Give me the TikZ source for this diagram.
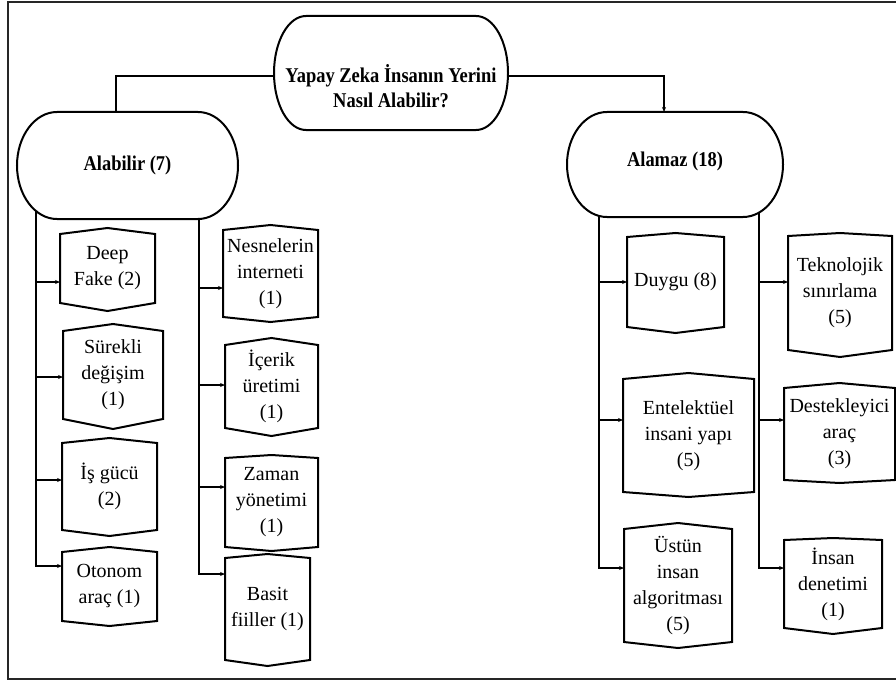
\documentclass[tikz,border=0pt]{standalone}
\usepackage{fontspec}
\setmainfont{Liberation Serif}
\newfontfamily\headfont{Liberation Serif}[FakeStretch=0.88]
\usetikzlibrary{arrows.meta,backgrounds}

\tikzset{
  boxtext/.style={inner sep=0pt, outer sep=0pt, align=center,
    font=\fontsize{20}{26}\selectfont},
  boxline/.style={line width=2pt, line join=miter, fill=white},
  termline/.style={line width=2pt, fill=white},
  headtext/.style={inner sep=0pt, align=center,
    font=\headfont\bfseries\fontsize{21}{25}\selectfont},
  conn/.style={line width=1.1pt},
  arr/.style={conn, -{Stealth[length=5pt,width=4pt]}},
  frame/.style={line width=2.5pt, draw=black!85},
}

% terminal: name, x1, x2, y1, y2, corner x-radius, text y, text
\newcommand\terminal[8]{%
  \pgfmathsetmacro\stcx{(#2+#3)/2}%
  \pgfmathsetmacro\stmy{(#4+#5)/2}%
  \pgfmathsetmacro\stk{0.5523*#6}%
  \pgfmathsetmacro\stky{0.5523*(#5-#4)/2}%
  \draw[termline] (#2+#6,#4) -- (#3-#6,#4)
    .. controls (#3-#6+\stk,#4) and (#3,\stmy-\stky) .. (#3,\stmy)
    .. controls (#3,\stmy+\stky) and (#3-#6+\stk,#5) .. (#3-#6,#5)
    -- (#2+#6,#5)
    .. controls (#2+#6-\stk,#5) and (#2,\stmy+\stky) .. (#2,\stmy)
    .. controls (#2,\stmy-\stky) and (#2+#6-\stk,#4) .. (#2+#6,#4) -- cycle;
  \node[headtext] (#1) at (\stcx,#7) {#8};
}

% category box: name, x1, x2, top, top peak, bottom, bottom peak, entry y, text
\newcommand\catbox[9]{%
  \pgfmathsetmacro\fbcx{(#2+#3)/2}%
  \pgfmathsetmacro\fbcy{(#4+#6)/2}%
  \draw[boxline] (#2,#4) -- (\fbcx,#5) -- (#3,#4) -- (#3,#6)
    -- (\fbcx,#7) -- (#2,#6) -- cycle;
  \node[boxtext] (#1) at (\fbcx,\fbcy) {#9};
  \coordinate (#1-in) at (#2,#8);
}

\begin{document}
\begin{tikzpicture}[x=1pt,y=-1pt]
\useasboundingbox (0,0) rectangle (896,682);
\draw[frame] (8,2) rectangle (910,679);

% root and the two answers
\terminal{root}{274}{508}{16}{130}{32}{86}{Yapay Zeka İnsanın Yerini\\Nasıl Alabilir?}
\terminal{alabilir}{17}{238}{112}{219}{40}{165}{Alabilir (7)}
\terminal{alamaz}{567}{783}{112}{217}{40}{161}{Alamaz (18)}

% Alabilir, first column
\catbox{deep}{60}{155}{234}{228}{303}{311}{282}{Deep\\Fake (2)}
\catbox{surekli}{63}{163}{331}{324}{419}{429}{377}{Sürekli\\değişim\\(1)}
\catbox{isgucu}{62}{157}{443}{438}{530}{536}{480}{İş gücü\\(2)}
\catbox{otonom}{62}{157}{552}{547}{621}{626}{566}{Otonom\\araç (1)}

% Alabilir, second column
\catbox{nesne}{223}{318}{230}{225}{317}{322}{288}{Nesnelerin\\interneti\\(1)}
\catbox{icerik}{225}{318}{345}{338}{428}{436}{385}{İçerik\\üretimi\\(1)}
\catbox{zaman}{225}{318}{458}{455}{547}{551}{487}{Zaman\\yönetimi\\(1)}
\catbox{basit}{225}{310}{558}{554}{660}{666}{574}{Basit\\fiiller (1)}

% Alamaz, first column
\catbox{duygu}{627}{724}{237}{233}{327}{333}{282}{Duygu (8)}
\catbox{entel}{623}{754}{379}{373}{492}{497}{420}{Entelektüel\\insani yapı\\(5)}
\catbox{ustun}{624}{732}{529}{523}{642}{648}{568}{Üstün\\insan\\algoritması\\(5)}

% Alamaz, second column
\catbox{tekno}{788}{892}{236}{233}{350}{357}{282}{Teknolojik\\sınırlama\\(5)}
\catbox{destek}{784}{895}{388}{383}{480}{483}{420}{Destekleyici\\araç\\(3)}
\catbox{insan}{784}{882}{540}{538}{628}{634}{568}{İnsan\\denetimi\\(1)}

\begin{scope}[on background layer]
  % links from the root
  \coordinate (hubL) at (330,76);
  \coordinate (hubR) at (460,76);
  \coordinate (alaTop) at (116,112);
  \coordinate (amzTop) at (664,112);
  \draw[conn] (hubL) -| (alaTop);
  \draw[arr] (hubR) -| (amzTop);

  % trunks leaving the answers
  \coordinate (tA) at (36,165);
  \coordinate (tB) at (199,165);
  \coordinate (tC) at (599,165);
  \coordinate (tD) at (759,165);

  \draw[arr] (tA) |- (otonom-in);
  \draw[arr] (tA |- deep-in) -- (deep-in);
  \draw[arr] (tA |- surekli-in) -- (surekli-in);
  \draw[arr] (tA |- isgucu-in) -- (isgucu-in);

  \draw[arr] (tB) |- (basit-in);
  \draw[arr] (tB |- nesne-in) -- (nesne-in);
  \draw[arr] (tB |- icerik-in) -- (icerik-in);
  \draw[arr] (tB |- zaman-in) -- (zaman-in);

  \draw[arr] (tC) |- (ustun-in);
  \draw[arr] (tC |- duygu-in) -- (duygu-in);
  \draw[arr] (tC |- entel-in) -- (entel-in);

  \draw[arr] (tD) |- (insan-in);
  \draw[arr] (tD |- tekno-in) -- (tekno-in);
  \draw[arr] (tD |- destek-in) -- (destek-in);
\end{scope}
\end{tikzpicture}
\end{document}
